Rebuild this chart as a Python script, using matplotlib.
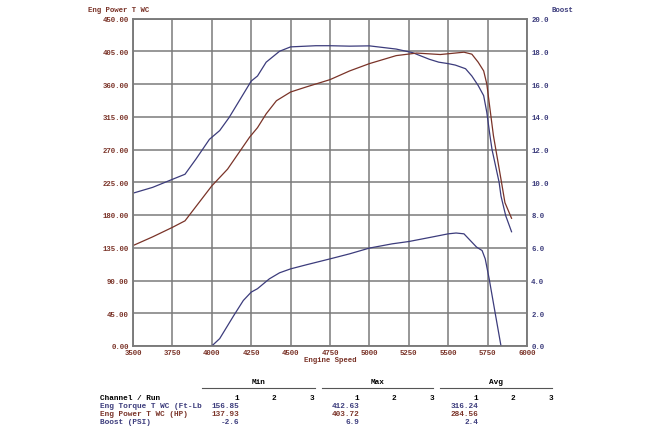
import matplotlib
matplotlib.use("Agg")
import matplotlib.pyplot as plt

# engine speed / torque (ft-lb)
rpm_tq = [3500, 3625, 3750, 3830, 3900, 3985, 4050, 4110, 4250, 4290, 4345, 4430, 4500, 4660,
          4750, 4875, 5000, 5170, 5275, 5380, 5440, 5500, 5545, 5610, 5650, 5690, 5725, 5745,
          5765, 5778, 5823, 5835, 5865, 5902]
torque = [210, 218, 229, 236, 257, 284, 296, 314, 364, 371, 390, 405, 411, 412.6,
          412.6, 412, 412.4, 408, 403, 394, 390, 388, 386, 381, 371, 358, 344, 321,
          289, 270, 225, 206, 179, 157]

# engine speed / power (hp)
rpm_pw = [3500, 3625, 3750, 3830, 4000, 4100, 4240, 4290, 4345, 4410, 4500, 4600, 4750, 4875,
          5000, 5170, 5300, 5450, 5600, 5650, 5690, 5725, 5745, 5765, 5787, 5835, 5860, 5902]
power = [138, 150, 163, 172, 220, 243, 287, 300, 319, 337, 349, 356, 366, 378,
         388, 399, 402.5, 400.5, 403.7, 401, 390, 378, 360, 326, 289, 229, 197, 175.5]

# engine speed / boost (psi)
rpm_bst = [4000, 4050, 4140, 4200, 4250, 4290, 4365, 4430, 4500, 4600, 4750, 4875, 5000, 5145,
           5250, 5395, 5500, 5550, 5600, 5680, 5715, 5735, 5760, 5797, 5835]
boost = [0, 0.45, 1.87, 2.78, 3.29, 3.5, 4.1, 4.47, 4.71, 4.96, 5.32, 5.63, 5.98, 6.24,
         6.38, 6.65, 6.85, 6.9, 6.85, 6.04, 5.83, 5.32, 4.1, 2.07, 0]

x_ticks = [3500, 3750, 4000, 4250, 4500, 4750, 5000, 5250, 5500, 5750, 6000]
left_ticks = [0, 45, 90, 135, 180, 225, 270, 315, 360, 405, 450]
right_ticks = [0, 2, 4, 6, 8, 10, 12, 14, 16, 18, 20]

channels = ["Eng Torque T WC (Ft-Lb", "Eng Power T WC (HP)", "Boost (PSI)"]
min_vals = ["156.85", "137.93", "-2.6"]
max_vals = ["412.63", "403.72", "6.9"]
avg_vals = ["316.24", "284.56", "2.4"]

navy = "#3c3c7c"
maroon = "#7a3328"
mono = "Liberation Mono"
W, H = 660, 431

fig = plt.figure(figsize=(6.6, 4.31), dpi=100)
ax = fig.add_axes([133 / W, 1 - 347 / H, 394 / W, 327.5 / H])
ax2 = ax.twinx()

ax.plot(rpm_tq, torque, color=navy, lw=0.9)
ax.plot(rpm_pw, power, color=maroon, lw=0.9)
ax2.plot(rpm_bst, boost, color=navy, lw=0.9)

ax.set_xlim(3500, 6000)
ax.set_ylim(0, 450)
ax2.set_ylim(0, 20)
ax.set_xticks(x_ticks)
ax.set_yticks(left_ticks)
ax2.set_yticks(right_ticks)
ax.set_xticklabels([str(t) for t in x_ticks], fontfamily=mono, fontsize=5.3,
                   color=maroon, fontweight="bold")
ax.set_yticklabels(["%.2f" % t for t in left_ticks], fontfamily=mono, fontsize=5.3,
                   color=maroon, fontweight="bold")
ax2.set_yticklabels(["%.1f" % t for t in right_ticks], fontfamily=mono, fontsize=5.3,
                    color=navy, fontweight="bold")
ax.tick_params(length=0, pad=3)
ax2.tick_params(length=0, pad=3)
ax.tick_params(axis="x", pad=2)
ax.grid(True, color="#7a7a7a", lw=1.1)
ax.set_axisbelow(True)
for a in (ax, ax2):
    for s in a.spines.values():
        s.set_color("#7a7a7a")
        s.set_linewidth(1.1)

ax.set_xlabel("Engine Speed", fontfamily=mono, fontsize=5.3, color=maroon,
              fontweight="bold", labelpad=0)
fig.text(88 / W, 1 - 11 / H, "Eng Power T WC", fontfamily=mono, fontsize=5.3,
         color=maroon, fontweight="bold", va="center")
fig.text(552 / W, 1 - 11 / H, "Boost", fontfamily=mono, fontsize=5.3,
         color=navy, fontweight="bold", va="center")

# statistics table
def ftext(x, y, s, color="black", ha="left"):
    fig.text(x / W, 1 - y / H, s, fontfamily=mono, fontsize=5.6, color=color,
             ha=ha, va="center", fontweight="bold")

for x0, x1, label in [(202, 315, "Min"), (322, 433, "Max"), (440, 552, "Avg")]:
    fig.add_artist(plt.Line2D([x0 / W, x1 / W], [1 - 389 / H, 1 - 389 / H],
                              color="#555555", lw=0.8))
    ftext((x0 + x1) / 2, 383, label, ha="center")

row_y = [407, 415, 423]
row_col = [navy, maroon, navy]
ftext(100, 399, "Channel / Run")
for cx in (239, 359, 478):
    ftext(cx, 399, "1", ha="right")
    ftext(cx + 37, 399, "2", ha="right")
    ftext(cx + 75, 399, "3", ha="right")
for i, name in enumerate(channels):
    ftext(100, row_y[i], name, color=row_col[i])
    ftext(239, row_y[i], min_vals[i], color=row_col[i], ha="right")
    ftext(359, row_y[i], max_vals[i], color=row_col[i], ha="right")
    ftext(478, row_y[i], avg_vals[i], color=row_col[i], ha="right")

fig.savefig("out.png", dpi=100)
